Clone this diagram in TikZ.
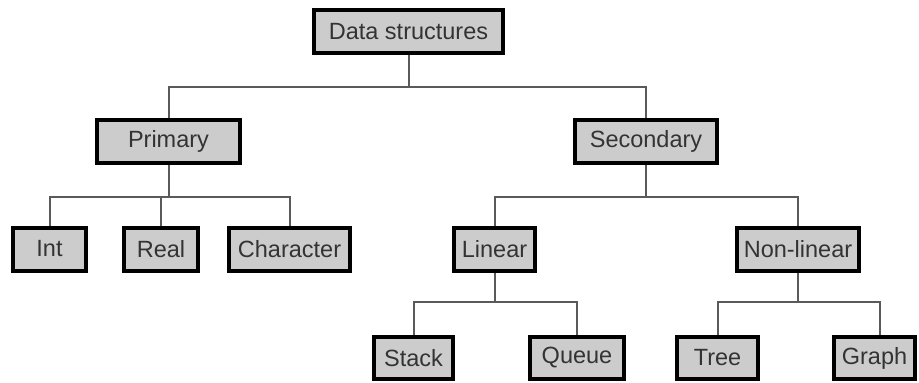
\documentclass[tikz,border=0pt]{standalone}
\usepackage{fontspec}
\setmainfont{Liberation Sans}
\definecolor{boxfill}{HTML}{CCCCCC}
\definecolor{txt}{HTML}{333333}
\definecolor{conn}{HTML}{5A5A5A}
\begin{document}
\begin{tikzpicture}[x=1pt,y=-1pt,
  dsbox/.style={draw=black,line width=4pt,fill=boxfill,text=txt,inner sep=0pt,
    minimum height=43pt,font=\fontsize{23.5}{26}\selectfont},
  link/.style={draw=conn,line width=2pt}]
\useasboundingbox (0,0) rectangle (919,383);
\fill[white] (0,0) rectangle (919,383);
% nodes
\node[dsbox,minimum width=189pt] (ds)   at (408.5,31.5) {Data structures};
\node[dsbox,minimum width=143pt] (prim) at (168.5,141) {Primary};
\node[dsbox,minimum width=142pt] (sec)  at (646,141.5) {Secondary};
\node[dsbox,minimum width=73pt]  (int)  at (49.5,249) {Int};
\node[dsbox,minimum width=74pt]  (real) at (161,249) {Real};
\node[dsbox,minimum width=121pt] (char) at (289.5,249) {Character};
\node[dsbox,minimum width=81pt]  (lin)  at (494.5,249) {Linear};
\node[dsbox,minimum width=122pt] (nonl) at (798,249) {Non-linear};
\node[dsbox,minimum width=79pt,minimum height=42pt] (stack) at (413.5,358) {Stack};
\node[dsbox,minimum width=94pt,minimum height=42pt] (queue) at (577,358) {Queue};
\node[dsbox,minimum width=81pt,minimum height=42pt] (tree)  at (717.5,358) {Tree};
\node[dsbox,minimum width=81pt,minimum height=42pt] (graph) at (874.5,358) {Graph};
% junctions
\coordinate (j0) at (408.5,87);
\coordinate (j1) at (168.5,197);
\coordinate (j2) at (646,197);
\coordinate (j3) at (494.5,302);
\coordinate (j4) at (798,302);
% connectors
\draw[link] (ds) -- (j0);
\draw[link] (j0) -| (prim);
\draw[link] (j0) -| (sec);
\draw[link] (prim) -- (j1);
\draw[link] (j1) -| (int);
\draw[link] (j1) -| (real);
\draw[link] (j1) -| (char);
\draw[link] (sec) -- (j2);
\draw[link] (j2) -| (lin);
\draw[link] (j2) -| (nonl);
\draw[link] (lin) -- (j3);
\draw[link] (j3) -| (stack);
\draw[link] (j3) -| (queue);
\draw[link] (nonl) -- (j4);
\draw[link] (j4) -| (tree);
\draw[link] (j4) -| ([xshift=5.5pt]graph.north);
\end{tikzpicture}
\end{document}
